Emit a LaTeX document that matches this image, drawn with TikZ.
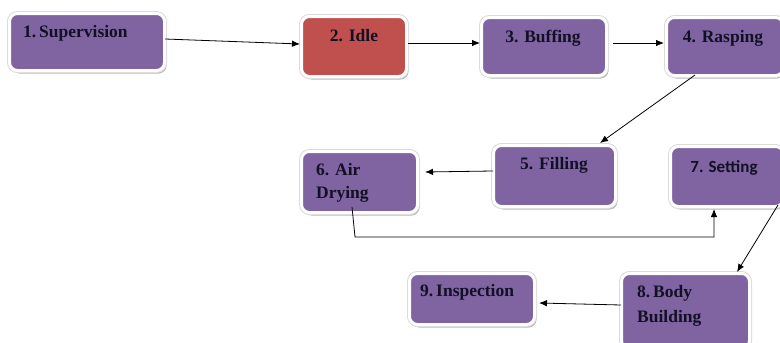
\documentclass[tikz,border=0pt]{standalone}
\usepackage{fontspec}
\setmainfont{Liberation Serif}
\newfontfamily\calib{Carlito}
\usetikzlibrary{arrows.meta,shadows,calc}
\definecolor{boxpurple}{HTML}{8064A2}
\definecolor{boxred}{HTML}{C0504D}
\definecolor{txt}{RGB}{18,16,36}
\tikzset{
  box/.style={draw=white, line width=3pt, rounded corners=8pt, fill=boxpurple,
    drop shadow={shadow xshift=2pt, shadow yshift=-3pt, fill=black!40, opacity=0.7},
    preaction={draw=black!14, line width=5pt},
    inner sep=0pt},
  redbox/.style={box, fill=boxred},
  lbl/.style={inner sep=0pt, text=txt, font=\fontsize{17.5}{23}\selectfont\bfseries},
  arr/.style={line width=0.8pt, -{Latex[length=8pt,width=6.5pt]}},
}
\begin{document}
\begin{tikzpicture}[x=1pt,y=-1pt]
\useasboundingbox (0,0) rectangle (780,343);
\clip (0,0) rectangle (780,343);
% boxes
\node[box, minimum width=155pt, minimum height=57pt] (n1) at (87,42) {};
\node[redbox, minimum width=105pt, minimum height=60pt] (n2) at (354,46.5) {};
\node[box, minimum width=125pt, minimum height=58pt] (n3) at (544,46.5) {};
\node[box, minimum width=117pt, minimum height=58pt] (n4) at (725,46.5) {};
\node[box, minimum width=122pt, minimum height=61pt] (n5) at (554.5,176) {};
\node[box, minimum width=116pt, minimum height=61pt] (n6) at (359.5,182) {};
\node[box, minimum width=113pt, minimum height=60pt] (n7) at (727,176.5) {};
\node[box, minimum width=128pt, minimum height=75pt] (n8) at (685.5,311) {};
\node[box, minimum width=125pt, minimum height=51pt] (n9) at (472,299) {};
% labels
\node[lbl, anchor=base west] (t1) at (23,37) {1.\,Supervision};
\node[lbl, anchor=base] (t2) at (354,41.5) {2. Idle};
\node[lbl, anchor=base] (t3) at (543,42.5) {3. Buffing};
\node[lbl, anchor=base] (t4) at (723,42.5) {4. Rasping};
\node[lbl, anchor=base] (t5) at (554,169) {5. Filling};
\node[lbl, anchor=base west, align=left] (t6) at (316,198.5) {6. Air\\Drying};
\node[lbl, anchor=base, font=\calib\fontsize{17}{23}\selectfont\bfseries] (t7) at (724,172.5) {7. Setting};
\node[lbl, anchor=base west, align=left, font=\fontsize{17.5}{25}\selectfont\bfseries] (t8) at (637,322) {8.\,Body\\Building};
\node[lbl, anchor=base west] (t9) at (420,296.5) {9.\,Inspection};
% connectors
\draw[arr] ($(n1.east)+(-1,-3)$) -- ($(n2.west)+(0,-2.5)$);
\draw[arr] ($(n2.east)+(0,-3.5)$) -- ($(n3.west)+(0,-3.5)$);
\draw[arr] ($(n3.east)+(5,-3.5)$) -- ($(n4.west)+(-1,-3.5)$);
\draw[arr] ($(n4.south)+(-30,-2)$) -- ($(n5.north)+(45.5,-1)$);
\draw[arr] ($(n5.west)+(1,-5)$) -- ($(n6.east)+(6,-10)$);
\coordinate (b67) at ($(n6.south)+(-4.5,23)$);
\draw[arr] ($(n6.south)+(-7.5,-7)$) -- (b67) -| ($(n7.south)+(-13,1)$);
\draw[arr] ($(n7.south east)+(-7,-3)$) -- ($(n8.north)+(51.5,0)$);
\draw[arr] ($(n8.west)+(1,-6)$) -- ($(n9.east)+(3,4)$);
\end{tikzpicture}
\end{document}
